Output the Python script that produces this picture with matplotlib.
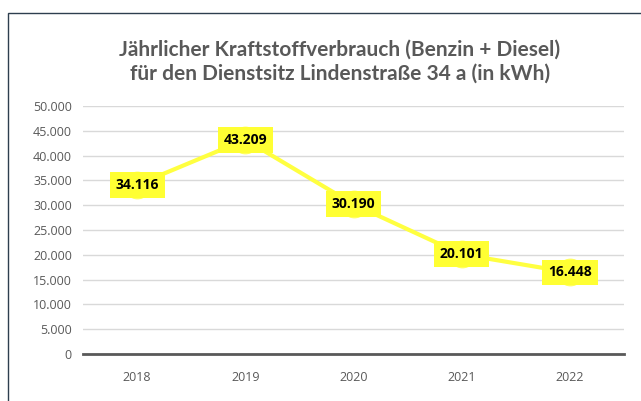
import matplotlib
matplotlib.use("Agg")
import matplotlib.pyplot as plt
from matplotlib.patches import Rectangle
from matplotlib.ticker import FuncFormatter

years = ["2018", "2019", "2020", "2021", "2022"]
values = [34116, 43209, 30190, 20101, 16448]
labels = ["34.116", "43.209", "30.190", "20.101", "16.448"]
yticks = list(range(0, 50001, 5000))

W, H = 641, 401
fig = plt.figure(figsize=(W / 100, H / 100), dpi=100)
fig.patch.set_facecolor("white")

# outer chart frame (partially visible)
fig.patches.append(Rectangle((8 / W, -0.1), 1.2, (H - 13) / H + 0.1, transform=fig.transFigure,
                             fill=False, edgecolor="#2E3F4F", linewidth=1.0))

ax = fig.add_axes([83 / W, 1 - 354 / H, (624 - 83) / W, (354 - 106) / H])
x = list(range(len(years)))
ax.plot(x, values, color="#FFFF40", linewidth=3, zorder=3,
        marker="o", markersize=19, markerfacecolor="#FFFF80", markeredgecolor="#FFFF60", markeredgewidth=1)
for xi, v, lab in zip(x, values, labels):
    ax.text(xi, v, lab, ha="center", va="center", fontsize=10, fontweight="bold", color="black",
            family="Open Sans", zorder=5,
            bbox=dict(boxstyle="square,pad=0.42", facecolor="#FFFF33", edgecolor="none"))

ax.set_xlim(-0.5, len(years) - 0.5)
ax.set_ylim(0, 50000)
ax.set_yticks(yticks)
ax.yaxis.set_major_formatter(FuncFormatter(lambda v, p: "0" if v == 0 else f"{int(v):,}".replace(",", ".")))
ax.set_xticks(x)
ax.set_xticklabels(years)
ax.grid(axis="y", color="#D9D9D9", linewidth=1)
ax.set_axisbelow(True)
for s in ["top", "right", "left"]:
    ax.spines[s].set_visible(False)
ax.spines["bottom"].set_color("#595959")
ax.spines["bottom"].set_linewidth(2)
ax.tick_params(axis="both", length=0, colors="#595959", labelsize=9)
ax.tick_params(axis="x", pad=12)
ax.tick_params(axis="y", pad=8)
for t in ax.get_xticklabels() + ax.get_yticklabels():
    t.set_family("Open Sans")

fig.text(340 / W, 1 - 62 / H, "Jährlicher Kraftstoffverbrauch (Benzin + Diesel)\nfür den Dienstsitz Lindenstraße 34 a (in kWh)",
         ha="center", va="center", fontsize=15, fontweight="bold", color="#595959",
         family="Lato", linespacing=1.25)

fig.savefig("out.png", dpi=100)
